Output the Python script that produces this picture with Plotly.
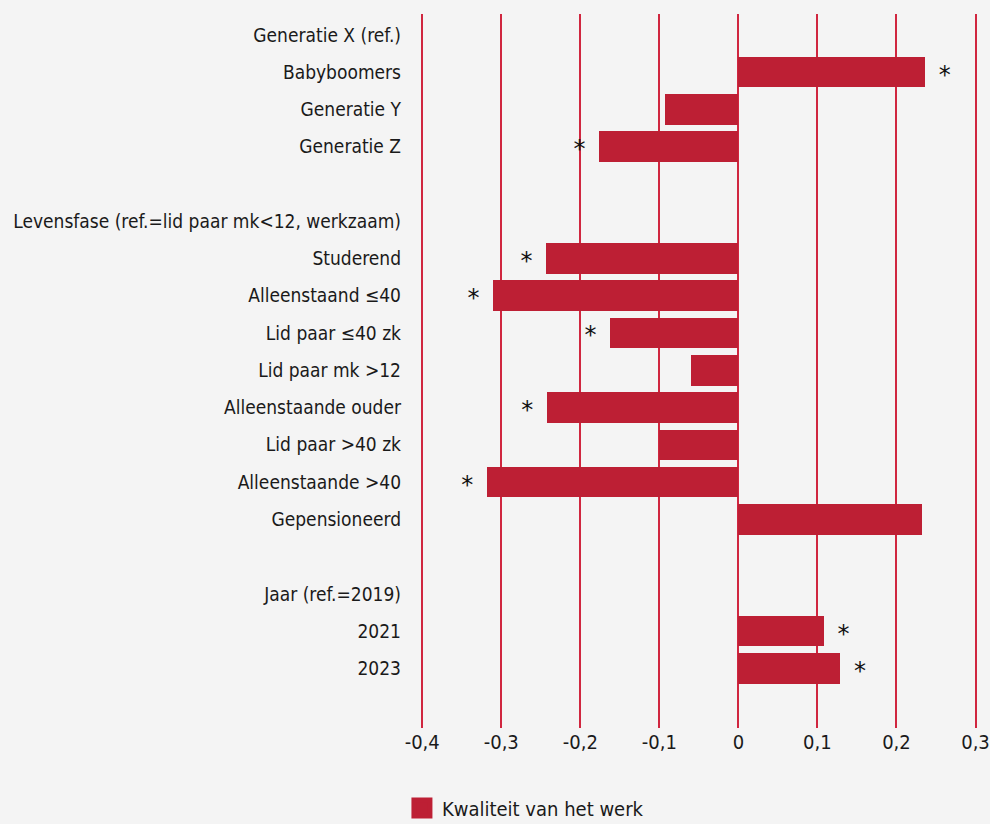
import plotly.graph_objects as go

categories = [
    "Generatie X (ref.)", "Babyboomers", "Generatie Y", "Generatie Z", "",
    "Levensfase (ref.=lid paar mk<12, werkzaam)", "Studerend", "Alleenstaand ≤40",
    "Lid paar ≤40 zk", "Lid paar mk >12", "Alleenstaande ouder", "Lid paar >40 zk",
    "Alleenstaande >40", "Gepensioneerd", " ", "Jaar (ref.=2019)", "2021", "2023",
]
values = [None, 0.236, -0.093, -0.176, None,
          None, -0.243, -0.310, -0.162, -0.060, -0.242, -0.101, -0.318, 0.232, None,
          None, 0.108, 0.129]
significant = [False, True, False, True, False,
               False, True, True, True, False, True, False, True, False, False,
               False, True, True]
x_ticks = [-0.4, -0.3, -0.2, -0.1, 0, 0.1, 0.2, 0.3]
x_ticklabels = ["-0,4", "-0,3", "-0,2", "-0,1", "0", "0,1", "0,2", "0,3"]
series_name = "Kwaliteit van het werk"

RED = "#bd1f34"
GRID = "#d0263f"
BG = "#f4f4f4"
FONT = "DejaVu Sans Condensed, sans-serif"

pos = list(range(len(categories)))

fig = go.Figure()
fig.add_trace(go.Bar(
    y=pos, x=values, orientation="h", marker=dict(color=RED, line=dict(width=0)),
    width=0.82, showlegend=False, hoverinfo="x+y",
))

star_x, star_y = [], []
for p, v, s in zip(pos, values, significant):
    if s and v is not None:
        star_x.append(v + (0.025 if v > 0 else -0.025))
        star_y.append(p + 0.12)
fig.add_trace(go.Scatter(
    x=star_x, y=star_y, mode="text", text=["*"] * len(star_x),
    textfont=dict(size=24, color="#111111", family="DejaVu Sans"),
    textposition="middle center",
    showlegend=False, hoverinfo="skip",
))

# legend entry
fig.add_trace(go.Scatter(
    x=[None], y=[None], mode="markers", name=series_name,
    marker=dict(symbol="square", size=16, color=RED, line=dict(color=RED, width=5)),
))

fig.update_layout(
    width=990, height=824,
    paper_bgcolor=BG, plot_bgcolor=BG,
    margin=dict(l=420, r=12, t=14, b=96, autoexpand=False),
    font=dict(family=FONT, size=19, color="#1a1a1a"),
    bargap=0,
    xaxis=dict(
        range=[-0.40278, 0.30316], tickvals=x_ticks, ticktext=x_ticklabels,
        showgrid=True, gridcolor=GRID, gridwidth=1.5,
        zeroline=True, zerolinecolor=GRID, zerolinewidth=1.5,
        showline=False, ticks="", tickfont=dict(size=20),
        automargin=False, fixedrange=True,
    ),
    yaxis=dict(
        tickvals=pos, ticktext=categories, range=[18.6, -0.56],
        showgrid=False, zeroline=False, showline=False, ticks="",
        ticklabelstandoff=18, tickfont=dict(size=19),
        automargin=False, fixedrange=True,
    ),
    legend=dict(
        orientation="h", xref="container", yref="container",
        x=0.406, xanchor="left", y=0.0194, yanchor="middle",
        font=dict(size=20), bgcolor="rgba(0,0,0,0)",
    ),
)

fig.write_html("out.html", config={"displayModeBar": False},
               post_script="document.body.style.margin='0';")
